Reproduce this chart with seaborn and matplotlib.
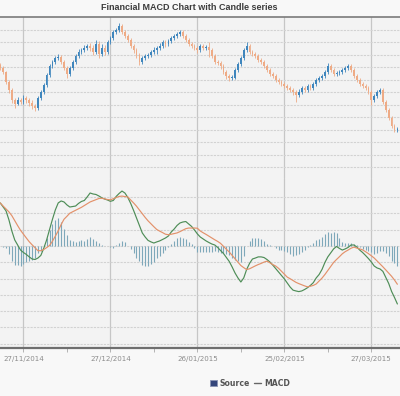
import numpy as np
import pandas as pd
import matplotlib

matplotlib.use("Agg")
import matplotlib.pyplot as plt
import matplotlib.dates as mdates
from matplotlib.lines import Line2D
from matplotlib.patches import Patch
from matplotlib.ticker import FixedLocator
import seaborn as sns

# daily series, first day 19/11/2014
START = "2014-11-19"

opens = [
    111.5, 109.2, 106.0, 98.0, 91.6, 83.6, 80.4, 83.6, 82.0, 85.2,
    83.6, 81.2, 78.8, 77.2, 85.2, 90.0, 95.6, 103.6, 110.8, 114.0,
    117.2, 118.0, 114.0, 109.2, 104.4, 109.2, 114.0, 118.8, 122.0, 123.6,
    125.2, 126.8, 125.2, 122.0, 128.4, 120.4, 125.2, 122.0, 130.0, 133.2,
    138.0, 139.6, 142.8, 138.0, 134.8, 131.6, 126.8, 123.6, 119.6, 114.0,
    117.2, 118.8, 119.6, 122.0, 123.6, 125.2, 126.8, 130.0, 128.4, 130.8,
    133.2, 134.8, 136.4, 138.0, 134.8, 131.6, 128.4, 126.8, 125.2, 123.6,
    126.8, 125.2, 126.0, 123.6, 118.8, 114.0, 113.6, 110.8, 106.0, 102.8,
    101.2, 101.6, 107.6, 112.4, 117.2, 123.6, 126.8, 122.0, 120.4, 118.8,
    115.6, 114.0, 110.8, 107.6, 104.4, 102.8, 99.6, 98.0, 96.4, 94.8,
    93.2, 91.6, 90.0, 87.6, 90.0, 93.2, 91.6, 94.8, 93.2, 96.4,
    99.6, 101.2, 102.8, 106.0, 110.8, 107.6, 104.4, 105.2, 106.0, 107.6,
    109.2, 110.8, 107.6, 102.8, 99.6, 96.4, 94.8, 93.2, 90.0, 83.6,
    86.8, 90.0, 91.6, 82.0, 75.6, 69.2, 62.8, 59.6,
]
highs = [
    113.0, 110.8, 107.2, 99.6, 93.2, 85.2, 86.0, 85.2, 87.6, 86.8,
    85.2, 83.6, 80.4, 86.8, 91.6, 97.2, 105.2, 112.4, 115.6, 118.8,
    120.4, 119.6, 115.6, 110.8, 110.8, 115.6, 120.4, 124.4, 125.2, 127.6,
    128.4, 129.2, 127.6, 131.6, 130.8, 128.4, 127.6, 131.6, 134.8, 139.6,
    141.2, 145.2, 144.4, 139.6, 136.4, 133.2, 128.4, 125.2, 121.2, 118.8,
    120.4, 121.2, 123.6, 126.0, 126.8, 129.2, 131.6, 131.6, 132.4, 134.8,
    136.4, 138.0, 139.6, 139.6, 136.4, 133.2, 130.0, 128.4, 126.8, 128.4,
    128.4, 127.6, 130.0, 125.2, 120.4, 115.6, 115.2, 112.4, 107.6, 104.4,
    103.6, 109.2, 114.0, 118.8, 125.2, 130.0, 128.4, 123.6, 122.0, 120.4,
    117.2, 115.6, 112.4, 109.2, 106.0, 104.4, 101.2, 99.6, 98.0, 96.4,
    94.8, 93.2, 91.6, 92.4, 94.8, 94.8, 96.4, 96.4, 98.0, 101.2,
    102.8, 104.4, 107.6, 113.2, 112.4, 109.2, 106.8, 107.6, 109.2, 110.8,
    112.4, 112.4, 109.2, 104.4, 101.2, 98.0, 96.4, 94.8, 91.6, 88.4,
    91.6, 93.2, 93.2, 83.6, 77.2, 70.8, 64.4, 62.0,
]
lows = [
    107.6, 104.4, 96.4, 89.2, 81.2, 77.2, 79.6, 80.4, 80.4, 81.2,
    78.8, 76.4, 74.8, 75.6, 83.6, 88.4, 94.0, 102.0, 109.2, 112.4,
    115.6, 112.4, 107.6, 101.2, 102.8, 107.6, 112.4, 117.2, 120.4, 122.0,
    123.6, 122.8, 119.6, 120.4, 117.2, 118.8, 119.6, 120.4, 128.4, 131.6,
    136.4, 138.0, 136.4, 133.2, 130.0, 125.2, 121.2, 117.2, 111.6, 112.4,
    115.6, 117.2, 118.0, 120.4, 120.4, 123.6, 125.2, 126.0, 126.8, 129.2,
    131.6, 133.2, 134.8, 133.2, 130.0, 126.8, 125.2, 123.6, 121.2, 122.0,
    123.6, 123.6, 118.0, 117.2, 112.4, 112.0, 108.4, 104.4, 100.4, 98.8,
    99.6, 100.4, 106.0, 110.8, 115.6, 122.0, 120.4, 118.8, 117.2, 114.0,
    112.4, 109.2, 106.0, 102.8, 101.2, 98.0, 96.4, 94.8, 93.2, 91.6,
    90.0, 87.6, 82.0, 86.0, 88.4, 90.0, 90.0, 91.6, 91.6, 94.8,
    98.0, 99.6, 101.2, 104.4, 106.0, 102.8, 102.8, 103.6, 104.4, 106.0,
    107.6, 106.0, 101.2, 98.0, 94.8, 93.2, 91.6, 88.4, 79.6, 82.0,
    85.2, 88.4, 80.4, 74.0, 67.6, 61.2, 58.0, 58.0,
]
closes = [
    109.2, 106.0, 98.0, 91.6, 83.6, 80.4, 83.6, 82.0, 85.2, 83.6,
    81.2, 78.8, 77.2, 85.2, 90.0, 95.6, 103.6, 110.8, 114.0, 117.2,
    118.0, 114.0, 109.2, 104.4, 109.2, 114.0, 118.8, 122.0, 123.6, 125.2,
    126.8, 125.2, 122.0, 128.4, 120.4, 125.2, 122.0, 130.0, 133.2, 138.0,
    139.6, 142.8, 138.0, 134.8, 131.6, 126.8, 123.6, 119.6, 114.0, 117.2,
    118.8, 119.6, 122.0, 123.6, 125.2, 126.8, 130.0, 128.4, 130.8, 133.2,
    134.8, 136.4, 138.0, 134.8, 131.6, 128.4, 126.8, 125.2, 123.6, 126.8,
    125.2, 126.0, 123.6, 118.8, 114.0, 113.6, 110.8, 106.0, 102.8, 101.2,
    101.6, 107.6, 112.4, 117.2, 123.6, 126.8, 122.0, 120.4, 118.8, 115.6,
    114.0, 110.8, 107.6, 104.4, 102.8, 99.6, 98.0, 96.4, 94.8, 93.2,
    91.6, 90.0, 87.6, 90.0, 93.2, 91.6, 94.8, 93.2, 96.4, 99.6,
    101.2, 102.8, 106.0, 110.8, 107.6, 104.4, 105.2, 106.0, 107.6, 109.2,
    110.8, 107.6, 102.8, 99.6, 96.4, 94.8, 93.2, 90.0, 83.6, 86.8,
    90.0, 91.6, 82.0, 75.6, 69.2, 62.8, 59.6, 60.4,
]

macd = [
    2.64, 2.39, 2.15, 1.60, 0.92, 0.37, 0.06, -0.25, -0.40, -0.52,
    -0.67, -0.80, -0.83, -0.74, -0.58, -0.15, 0.37, 1.01, 1.63, 2.21,
    2.64, 2.76, 2.70, 2.52, 2.39, 2.42, 2.45, 2.61, 2.73, 2.79,
    3.01, 3.25, 3.19, 3.16, 3.07, 2.96, 2.88, 2.82, 2.74, 2.79,
    3.04, 3.22, 3.37, 3.25, 2.98, 2.61, 2.18, 1.72, 1.26, 0.80,
    0.55, 0.34, 0.25, 0.18, 0.25, 0.31, 0.40, 0.49, 0.61, 0.86,
    1.04, 1.26, 1.41, 1.47, 1.50, 1.35, 1.20, 0.98, 0.74, 0.55,
    0.43, 0.31, 0.21, 0.12, 0.06, -0.09, -0.28, -0.46, -0.71, -0.95,
    -1.29, -1.66, -1.96, -2.21, -1.96, -1.44, -1.07, -0.80, -0.74, -0.67,
    -0.67, -0.71, -0.83, -0.98, -1.17, -1.38, -1.60, -1.81, -2.02, -2.27,
    -2.52, -2.71, -2.76, -2.80, -2.76, -2.67, -2.56, -2.42, -2.25, -1.96,
    -1.75, -1.44, -1.01, -0.67, -0.43, -0.18, -0.03, -0.15, -0.25, -0.18,
    -0.09, 0.06, 0.06, -0.06, -0.25, -0.40, -0.58, -0.77, -0.98, -1.23,
    -1.35, -1.41, -1.56, -1.93, -2.30, -2.79, -3.16, -3.56,
]
signal = [
    2.64, 2.45, 2.27, 2.09, 1.86, 1.55, 1.25, 0.96, 0.72, 0.49,
    0.26, 0.07, -0.11, -0.29, -0.29, -0.22, -0.10, 0.03, 0.29, 0.60,
    0.93, 1.31, 1.64, 1.82, 2.01, 2.10, 2.19, 2.28, 2.37, 2.48,
    2.59, 2.70, 2.77, 2.84, 2.91, 2.93, 2.89, 2.85, 2.83, 2.90,
    2.97, 3.04, 3.06, 3.03, 3.01, 2.82, 2.64, 2.44, 2.21, 1.98,
    1.75, 1.54, 1.36, 1.18, 1.01, 0.91, 0.82, 0.72, 0.69, 0.72,
    0.76, 0.80, 0.88, 0.97, 1.06, 1.10, 1.10, 1.10, 1.09, 0.92,
    0.81, 0.71, 0.60, 0.49, 0.38, 0.28, 0.16, -0.02, -0.20, -0.37,
    -0.58, -0.79, -1.01, -1.20, -1.33, -1.45, -1.40, -1.31, -1.22, -1.14,
    -1.07, -0.99, -0.93, -1.03, -1.14, -1.23, -1.37, -1.55, -1.73, -1.91,
    -2.01, -2.12, -2.23, -2.31, -2.38, -2.45, -2.51, -2.47, -2.42, -2.33,
    -2.15, -1.97, -1.75, -1.50, -1.25, -1.01, -0.83, -0.66, -0.48, -0.35,
    -0.25, -0.14, -0.07, -0.13, -0.18, -0.24, -0.35, -0.47, -0.60, -0.74,
    -0.92, -1.10, -1.28, -1.47, -1.67, -1.86, -2.09, -2.35,
]
histogram = [
    0.00, -0.06, -0.12, -0.49, -0.94, -1.18, -1.19, -1.21, -1.12, -1.01,
    -0.93, -0.87, -0.72, -0.45, -0.29, 0.07, 0.47, 0.98, 1.34, 1.61,
    1.71, 1.45, 1.06, 0.70, 0.38, 0.32, 0.26, 0.33, 0.36, 0.31,
    0.42, 0.55, 0.42, 0.32, 0.16, 0.03, -0.01, -0.03, -0.09, -0.11,
    0.07, 0.18, 0.31, 0.22, -0.03, -0.21, -0.46, -0.72, -0.95, -1.18,
    -1.20, -1.20, -1.11, -1.00, -0.76, -0.60, -0.42, -0.23, -0.08, 0.14,
    0.28, 0.46, 0.53, 0.50, 0.44, 0.25, 0.10, -0.12, -0.35, -0.37,
    -0.38, -0.40, -0.39, -0.37, -0.32, -0.37, -0.44, -0.44, -0.51, -0.58,
    -0.71, -0.87, -0.95, -1.01, -0.63, 0.01, 0.33, 0.51, 0.48, 0.47,
    0.40, 0.28, 0.10, 0.05, -0.03, -0.15, -0.23, -0.26, -0.29, -0.36,
    -0.51, -0.59, -0.53, -0.49, -0.38, -0.22, -0.05, 0.05, 0.17, 0.37,
    0.40, 0.53, 0.74, 0.83, 0.82, 0.83, 0.80, 0.51, 0.23, 0.17,
    0.16, 0.20, 0.13, 0.07, -0.07, -0.16, -0.23, -0.30, -0.38, -0.49,
    -0.43, -0.31, -0.28, -0.46, -0.63, -0.93, -1.07, -1.21,
]

tick_dates = ["2014-11-27", "2014-12-27", "2015-01-26", "2015-02-25", "2015-03-27"]
minor_dates = ["2014-12-12", "2015-01-11", "2015-02-10", "2015-03-12"]

TITLE = "Financial MACD Chart with Candle series"
UP_COLOR = "#3f86bd"
DOWN_COLOR = "#eeab86"
MACD_COLOR = "#4e8d57"
SIGNAL_COLOR = "#e3916a"
HIST_COLOR = "#7ea8ba"
BG = "#f3f3f3"

W, H = 400, 396


def build_frame() -> pd.DataFrame:
    dates = pd.date_range(START, periods=len(closes), freq="D")
    return pd.DataFrame(
        {
            "Date": dates,
            "Open": opens,
            "High": highs,
            "Low": lows,
            "Close": closes,
            "MACD": macd,
            "Signal": signal,
            "Hist": histogram,
        }
    )


def main() -> None:
    sns.set_theme(style="whitegrid")
    plt.rcParams["font.family"] = ["DejaVu Sans"]

    df = build_frame()

    fig = plt.figure(figsize=(W / 100, H / 100), dpi=100, facecolor="#f8f8f8")
    # price panel (top) and MACD panel (bottom), touching each other
    ax1 = fig.add_axes([0, 1 - 178 / H, 1, 161 / H], facecolor=BG)
    ax2 = fig.add_axes([0, 1 - 348 / H, 1, 170 / H], facecolor=BG, sharex=ax1)

    # candles
    colors = np.where(df["Close"] >= df["Open"], UP_COLOR, DOWN_COLOR)
    ax1.vlines(df["Date"], df["Low"], df["High"], colors=colors, lw=0.6, zorder=3)
    body_low = df[["Open", "Close"]].min(axis=1)
    body_h = (df["Close"] - df["Open"]).abs().clip(lower=0.7)
    ax1.bar(df["Date"], body_h, bottom=body_low, width=0.6, color=colors,
            linewidth=0, zorder=4)

    # MACD histogram and lines
    ax2.vlines(df["Date"], 0, df["Hist"], colors=HIST_COLOR, lw=0.8, zorder=3)
    sns.lineplot(data=df, x="Date", y="MACD", ax=ax2, color=MACD_COLOR, lw=0.85, zorder=4)
    sns.lineplot(data=df, x="Date", y="Signal", ax=ax2, color=SIGNAL_COLOR, lw=0.85, zorder=4)

    x0 = pd.Timestamp(START) - pd.Timedelta(hours=2)
    x1 = pd.Timestamp(START) + pd.Timedelta(days=137.9)
    ax1.set_xlim(x0, x1)
    ax1.set_ylim(21.2, 150)
    ax2.set_ylim(-6.26, 4.17)
    ax1.set_yticks(range(30, 150, 10))
    ax2.set_yticks(range(-6, 4))

    ax2.xaxis.set_major_locator(FixedLocator(mdates.date2num(pd.to_datetime(tick_dates))))
    ax2.xaxis.set_minor_locator(FixedLocator(mdates.date2num(pd.to_datetime(minor_dates))))
    ax2.xaxis.set_major_formatter(mdates.DateFormatter("%d/%m/%Y"))

    for ax in (ax1, ax2):
        ax.grid(False)
        ax.grid(axis="y", color="#d2d2d2", lw=0.8, ls=(0, (2, 1)))
        ax.grid(axis="x", which="major", color="#c6c6c6", lw=0.9, ls="-")
        ax.set_xlabel("")
        ax.set_ylabel("")
        ax.tick_params(axis="y", left=False, labelleft=False, right=False)
        for side in ("left", "right", "top", "bottom"):
            ax.spines[side].set_visible(False)

    ax1.tick_params(axis="x", which="both", bottom=False, labelbottom=False)
    ax1.spines["top"].set_visible(True)
    ax1.spines["top"].set_color("#7a7a7a")
    ax1.spines["top"].set_linewidth(1.2)

    ax2.spines["bottom"].set_visible(True)
    ax2.spines["bottom"].set_color("#6e6e6e")
    ax2.spines["bottom"].set_linewidth(1.6)
    ax2.tick_params(axis="x", which="both", bottom=True, length=3, width=0.6,
                    color="#a8a8a8", labelsize=5.1, labelcolor="#8c8c8c", pad=2.5)

    fig.text(189.5 / W, 1 - 7 / H, TITLE, ha="center", va="center",
             fontsize=6.5, fontweight="bold", color="#3c3c3c",
             family=["Liberation Sans", "DejaVu Sans"])

    handles = [
        Patch(facecolor="#34457a", edgecolor="#8a93b3", linewidth=0.6),
        Line2D([], [], color="#666666", lw=1.0),
    ]
    fig.legend(handles, ["Source", "MACD"], loc="center",
               bbox_to_anchor=(250 / W, 1 - 383 / H), ncol=2, frameon=False,
               prop={"size": 5.6, "weight": "bold"}, labelcolor="#555555",
               handlelength=0.9, handleheight=0.9, handletextpad=0.4,
               columnspacing=0.5)

    fig.savefig("out.png", dpi=100, facecolor=fig.get_facecolor())
    plt.close(fig)


if __name__ == "__main__":
    main()
